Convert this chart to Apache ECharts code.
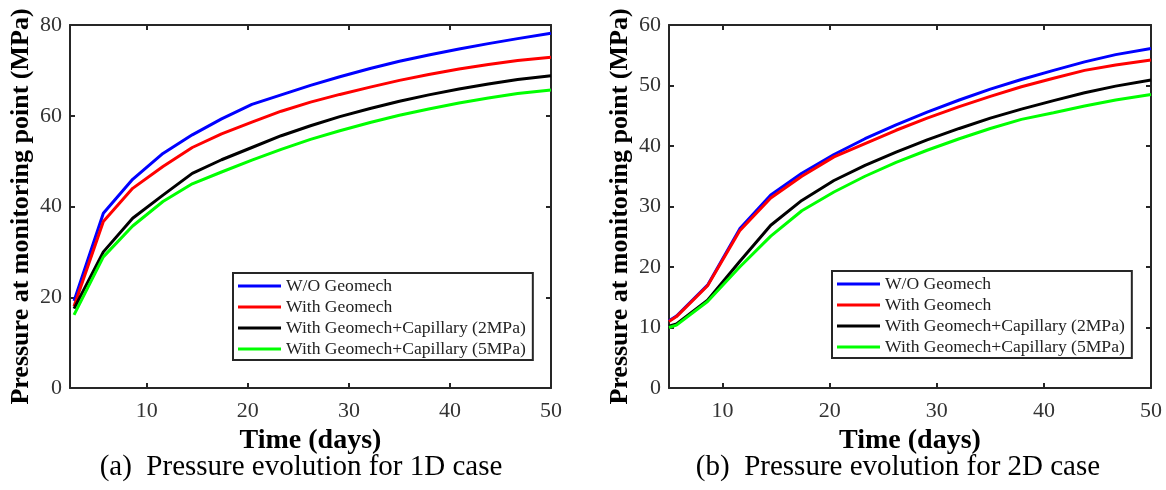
<!DOCTYPE html>
<html>
<head>
<meta charset="utf-8">
<script src="https://cdn.jsdelivr.net/npm/echarts@6/dist/echarts.min.js"></script>
<style>
  html, body { margin: 0; padding: 0; background: #fff; }
  #chart { width: 1166px; height: 490px; }
</style>
</head>
<body>
<div id="chart"></div>
<script>
// Legend entries shared by both panels
const seriesNames = [
  'W/O Geomech',
  'With Geomech',
  'With Geomech+Capillary (2MPa)',
  'With Geomech+Capillary (5MPa)'
];
const seriesColors = ['#0000ff', '#ff0000', '#000000', '#00ff00'];

// Panel (a): 1D case, time in days, pressure in MPa
const time1D = [2.8, 5.7, 8.6, 11.6, 14.5, 17.4, 20.4, 23.3, 26.2, 29.1, 32.1, 35.0, 37.9, 40.9, 43.8, 46.7, 50.0];
const p1D_noGeomech   = [19.2, 38.5, 46.0, 51.7, 55.8, 59.3, 62.5, 64.6, 66.7, 68.6, 70.4, 72.0, 73.4, 74.7, 75.9, 77.0, 78.2];
const p1D_geomech     = [18.0, 36.7, 44.0, 48.8, 53.0, 56.0, 58.6, 61.0, 63.0, 64.7, 66.3, 67.8, 69.1, 70.3, 71.3, 72.2, 72.9];
const p1D_capillary2  = [17.5, 30.0, 37.4, 42.5, 47.3, 50.3, 53.0, 55.6, 57.8, 59.8, 61.6, 63.2, 64.6, 65.9, 67.0, 68.0, 68.8];
const p1D_capillary5  = [16.1, 28.9, 35.7, 41.1, 45.0, 47.6, 50.2, 52.6, 54.8, 56.7, 58.5, 60.1, 61.5, 62.8, 63.9, 64.9, 65.7];

// Panel (b): 2D case
const time2D = [5.0, 5.7, 8.6, 11.6, 14.5, 17.4, 20.4, 23.3, 26.2, 29.1, 32.1, 35.0, 37.9, 40.9, 43.8, 46.7, 50.0];
const p2D_noGeomech   = [11.1, 11.9, 17.0, 26.3, 31.9, 35.5, 38.6, 41.2, 43.5, 45.6, 47.6, 49.4, 51.0, 52.5, 53.9, 55.1, 56.1];
const p2D_geomech     = [11.0, 11.8, 16.9, 26.0, 31.4, 35.0, 38.2, 40.4, 42.6, 44.6, 46.5, 48.2, 49.8, 51.2, 52.5, 53.4, 54.2];
const p2D_capillary2  = [10.2, 10.6, 14.5, 20.9, 26.9, 31.0, 34.3, 36.8, 39.0, 41.0, 42.9, 44.6, 46.1, 47.5, 48.8, 49.9, 50.9];
const p2D_capillary5  = [10.0, 10.4, 14.3, 20.0, 25.1, 29.3, 32.4, 35.0, 37.3, 39.3, 41.2, 42.9, 44.4, 45.5, 46.6, 47.6, 48.5];

// Tick values
const xTicks = [10, 20, 30, 40, 50];
const yTicks1D = { min: 0, max: 80, interval: 20 };
const yTicks2D = { min: 0, max: 60, interval: 10 };

const serif = "'Liberation Serif', 'Times New Roman', serif";
const axisColor = '#262626';

const pairs = (xs, ys) => xs.map((x, i) => [x, ys[i]]);

function lineSeries(name, color, data, xi, yi) {
  return {
    type: 'line', name, data,
    xAxisIndex: xi, yAxisIndex: yi,
    symbol: 'none', smooth: false, clip: true,
    lineStyle: { color, width: 3 },
    itemStyle: { color },
    z: 3
  };
}

// Bottom x axis with labels, plus a bare mirrored top axis to close the box
function xAxes(gridIndex, min) {
  const base = {
    type: 'value', gridIndex, min, max: 50,
    splitLine: { show: false },
    axisLine: { show: true, onZero: false, lineStyle: { color: axisColor, width: 2 } },
    axisTick: { show: true, inside: true, length: 5, customValues: xTicks, lineStyle: { color: axisColor, width: 2 } }
  };
  return [
    Object.assign({}, base, {
      position: 'bottom',
      name: 'Time (days)', nameLocation: 'middle', nameGap: 35,
      nameTextStyle: { fontFamily: serif, fontWeight: 'bold', fontSize: 28, color: '#000' },
      axisLabel: { show: true, customValues: xTicks, margin: 12, fontFamily: serif, fontSize: 22, color: '#333' }
    }),
    Object.assign({}, base, { position: 'top', axisLabel: { show: false } })
  ];
}

function yAxes(gridIndex, ticks) {
  const base = {
    type: 'value', gridIndex, min: ticks.min, max: ticks.max, interval: ticks.interval,
    splitLine: { show: false },
    axisLine: { show: true, onZero: false, lineStyle: { color: axisColor, width: 2 } },
    axisTick: { show: true, inside: true, length: 5, lineStyle: { color: axisColor, width: 2 } }
  };
  return [
    Object.assign({}, base, {
      position: 'left',
      name: 'Pressure at monitoring point (MPa)', nameLocation: 'middle', nameGap: 36,
      nameTextStyle: { fontFamily: serif, fontWeight: 'bold', fontSize: 26, color: '#000' },
      axisLabel: { show: true, margin: 8, fontFamily: serif, fontSize: 22, color: '#333' }
    }),
    Object.assign({}, base, { position: 'right', axisLabel: { show: false } })
  ];
}

function legend(left, top) {
  return {
    orient: 'vertical', left, top,
    data: seriesNames,
    icon: 'rect',
    backgroundColor: '#fff',
    borderColor: axisColor, borderWidth: 2,
    padding: [4, 7, 2, 5],
    itemWidth: 43, itemHeight: 3, itemGap: 3,
    selectedMode: false,
    textStyle: { fontFamily: serif, fontSize: 17.6, lineHeight: 18, color: '#222' }
  };
}

const sets1D = [p1D_noGeomech, p1D_geomech, p1D_capillary2, p1D_capillary5];
const sets2D = [p2D_noGeomech, p2D_geomech, p2D_capillary2, p2D_capillary5];

const option = {
  backgroundColor: '#fff',
  animation: false,
  grid: [
    { left: 70, top: 25, width: 481, height: 363 },
    { left: 669, top: 25, width: 482, height: 363 }
  ],
  xAxis: [...xAxes(0, 2.4), ...xAxes(1, 5)],
  yAxis: [...yAxes(0, yTicks1D), ...yAxes(1, yTicks2D)],
  legend: [legend(233, 273), legend(832, 271)],
  series: [
    ...seriesNames.map((n, i) => lineSeries(n, seriesColors[i], pairs(time1D, sets1D[i]), 0, 0)),
    ...seriesNames.map((n, i) => lineSeries(n, seriesColors[i], pairs(time2D, sets2D[i]), 2, 2))
  ],
  graphic: [
    { type: 'text', x: 301, y: 467, style: { text: '(a)  Pressure evolution for 1D case', align: 'center', verticalAlign: 'middle', font: '29px ' + serif, fill: '#000' } },
    { type: 'text', x: 898, y: 467, style: { text: '(b)  Pressure evolution for 2D case', align: 'center', verticalAlign: 'middle', font: '29px ' + serif, fill: '#000' } }
  ]
};

const chart = echarts.init(document.getElementById('chart'), null, { renderer: 'canvas' });
chart.setOption(option);
</script>
</body>
</html>
